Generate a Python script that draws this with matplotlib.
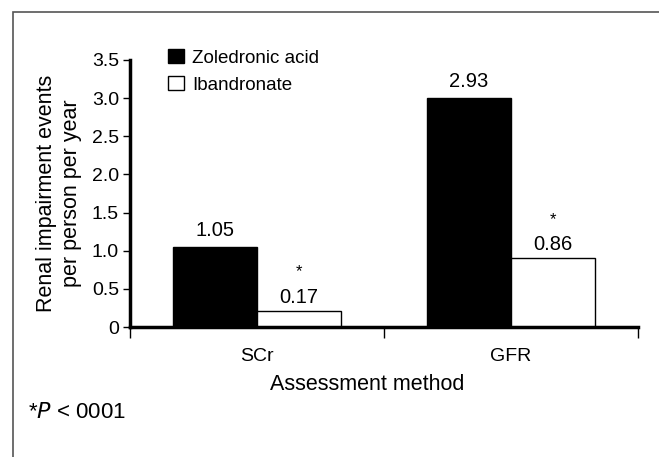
import numpy as np
import matplotlib
matplotlib.use("Agg")
import matplotlib.pyplot as plt
from matplotlib.patches import Rectangle

plt.rcParams['font.family'] = ['Liberation Sans', 'DejaVu Sans']

# data
methods = ["SCr", "GFR"]
zoledronic = [1.05, 3.0]          # drawn bar heights
ibandronate = [0.21, 0.9]
zol_labels = ["1.05", "2.93"]      # printed values
iba_labels = ["0.17", "0.86"]
iba_signif = [True, True]

fig = plt.figure(figsize=(6.59, 4.57), dpi=100)
ax = fig.add_axes([130/659, 1-327/457, 508/659, 267/457])

x = np.arange(len(methods))
w = 0.33
b1 = ax.bar(x - w/2, zoledronic, w, color="black", edgecolor="black", lw=1, label="Zoledronic acid")
b2 = ax.bar(x + w/2, ibandronate, w, color="white", edgecolor="black", lw=1, label="Ibandronate")

fs = 14
for rect, lab in zip(b1, zol_labels):
    ax.annotate(lab, (rect.get_x() + rect.get_width()/2, rect.get_height()),
                xytext=(0, 12), textcoords="offset points", ha="center", va="center", fontsize=14.5)
for rect, lab, s in zip(b2, iba_labels, iba_signif):
    cx = rect.get_x() + rect.get_width()/2
    ax.annotate(lab, (cx, rect.get_height()), xytext=(0, 10), textcoords="offset points",
                ha="center", va="center", fontsize=14.5)
    if s:
        ax.annotate("*", (cx, rect.get_height()), xytext=(0, 28), textcoords="offset points",
                    ha="center", va="center", fontsize=12)

ax.set_xlim(-0.5, 1.5)
ax.set_ylim(0, 3.5)
ax.set_yticks(np.arange(0, 3.51, 0.5))
ax.set_yticklabels(["0"] + [f"{v:.1f}" for v in np.arange(0.5, 3.51, 0.5)], fontsize=fs)
ax.set_xticks([-0.5, 0.5, 1.5])
ax.set_xticklabels([])
ax.set_xticks(x, minor=True)
ax.set_xticklabels(methods, minor=True, fontsize=fs)
ax.tick_params(axis="x", which="major", length=8, width=1, direction="out")
ax.tick_params(axis="x", which="minor", length=0, pad=15)
ax.tick_params(axis="y", length=5, width=1, pad=3)

for s in ["top", "right"]:
    ax.spines[s].set_visible(False)
ax.spines["left"].set_linewidth(2.5)
ax.spines["bottom"].set_linewidth(2.5)

ax.set_xlabel("Assessment method", fontsize=15.5)
ax.xaxis.set_label_coords(0.467, -0.175)
ax.set_ylabel("Renal impairment events\nper person per year", fontsize=15.5, labelpad=7, linespacing=1.25)

ax.legend(loc="upper left", bbox_to_anchor=(0.041, 1.105), frameon=False, fontsize=13.5,
          handlelength=0.85, handleheight=0.8, handletextpad=0.45, labelspacing=0.5)

fig.text(28/659, 1-412/457, "*$\\it{P}$ < 0001", fontsize=16, va="center", ha="left")

# gray frame around the figure
fig.patches.append(Rectangle((13/659, -0.1), 1.2, 1.1 - 12/457, transform=fig.transFigure,
                             fill=False, edgecolor="#555555", lw=1.2))

fig.savefig("out.png", dpi=100)
